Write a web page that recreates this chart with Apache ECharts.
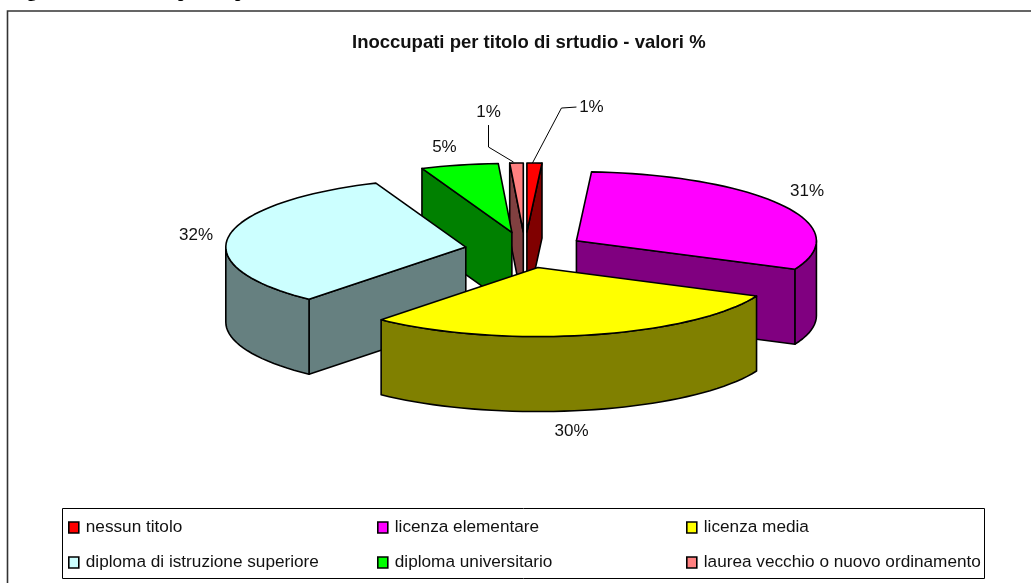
<!DOCTYPE html>
<html>
<head>
<meta charset="utf-8">
<style>
  html, body { margin: 0; padding: 0; background: #fff; }
  #chart { width: 1031px; height: 583px; }
</style>
</head>
<body>
<div id="chart"></div>
<script src="https://cdn.jsdelivr.net/npm/echarts@6/dist/echarts.min.js"></script>
<script>
// dati
var categories = ['nessun titolo', 'licenza elementare', 'licenza media', 'diploma di istruzione superiore', 'diploma universitario', 'laurea vecchio o nuovo ordinamento']
var values = [1.0, 30.7, 29.5, 32.49, 5.2, 0.9]
var topColors = ['#ff0000', '#ff00ff', '#ffff00', '#ccffff', '#00ff00', '#ff8080']
var sideColors = ['#800000', '#800080', '#808000', '#668080', '#008000', '#804040']

// geometria della torta 3D (proiezione dell'ellisse)
var cx = 525
var cy = 250
var rx = 240
var ry = 69
var depth = 75
var explode = 60
var explodeY = 18
var drawOrder = [0, 5, 4, 3, 1, 2]
var labelFont = '17px "Liberation Sans", Arial, sans-serif'

// posizione etichette e linee guida, relative al bordo della fetta
var labelOffset = [[57, -56], [25, -14], [-18, 96], [-33, 0], [-15, -18], [-28, -51]]
var leaders = {
  0: [[42, -56], [27, -55], [-2, 0]],
  5: [[-28, -38], [-28, -16], [-3, -1]]
}

var total = values.reduce(function (a, b) { return a + b }, 0)
var angles = []
values.reduce(function (acc, v, i) {
  angles[i] = [acc / total * 360, (acc + v) / total * 360]
  return acc + v
}, 0)

function rad(d) { return d * Math.PI / 180 }

function rimPoint(apex, deg, dy) {
  return [apex[0] + rx * Math.sin(rad(deg)), apex[1] - ry * Math.cos(rad(deg)) + (dy || 0)]
}

function sliceApex(i) {
  var mid = rad((angles[i][0] + angles[i][1]) / 2)
  return [cx + explode * Math.sin(mid), cy - explodeY * Math.cos(mid)]
}

function poly(points, fill) {
  return {
    type: 'polygon',
    shape: { points: points },
    style: { fill: fill, stroke: '#000', lineWidth: 1.6, lineJoin: 'round' }
  }
}

function arc(apex, from, to, dy) {
  var pts = []
  var n = Math.max(1, Math.ceil((to - from) / 2.5))
  for (var k = 0; k <= n; k++) {
    pts.push(rimPoint(apex, from + (to - from) * k / n, dy))
  }
  return pts
}

function face(apex, deg, fill) {
  return poly([
    apex,
    rimPoint(apex, deg),
    rimPoint(apex, deg, depth),
    [apex[0], apex[1] + depth]
  ], fill)
}

function renderSlice(i) {
  var apex = sliceApex(i)
  var start = angles[i][0]
  var end = angles[i][1]
  var mid = (start + end) / 2
  var children = []

  // facce laterali visibili
  if (Math.sin(rad(start)) < 0) children.push(face(apex, start, sideColors[i]))
  if (Math.sin(rad(end)) > 0) children.push(face(apex, end, sideColors[i]))
  var from = Math.max(start, 90)
  var to = Math.min(end, 270)
  if (to > from) {
    children.push(poly(arc(apex, from, to, 0).concat(arc(apex, from, to, depth).reverse()), sideColors[i]))
  }
  children.push(poly([apex].concat(arc(apex, start, end, 0)), topColors[i]))

  var rim = rimPoint(apex, mid)
  children.push({
    type: 'text',
    z2: 50,
    style: {
      x: rim[0] + labelOffset[i][0],
      y: rim[1] + labelOffset[i][1],
      text: Math.round(values[i]) + '%',
      font: labelFont,
      fill: '#111',
      align: 'center',
      verticalAlign: 'middle'
    }
  })
  if (leaders[i]) {
    children.push({
      type: 'polyline',
      z2: 40,
      shape: { points: leaders[i].map(function (p) { return [rim[0] + p[0], rim[1] + p[1]] }) },
      style: { fill: 'none', stroke: '#000', lineWidth: 1 }
    })
  }
  return { type: 'group', children: children }
}

var series = categories.map(function (name, i) {
  return {
    name: name,
    type: 'custom',
    coordinateSystem: 'none',
    z: 2 + drawOrder.indexOf(i),
    silent: true,
    itemStyle: { color: topColors[i] },
    data: [[values[i]]],
    renderItem: function () { return renderSlice(i) }
  }
})

// tre colonne di legenda, due righe ciascuna
function legendColumn(left, names) {
  return {
    orient: 'vertical',
    left: left,
    top: 514,
    itemGap: 18,
    itemWidth: 10,
    itemHeight: 11,
    icon: 'rect',
    selectedMode: false,
    data: names,
    itemStyle: { borderColor: '#000', borderWidth: 1.6 },
    textStyle: { fontFamily: '"Liberation Sans", Arial, sans-serif', fontSize: 17.2, color: '#111', padding: [0, 0, 0, 2] }
  }
}

// intestazione del documento, tagliata dal bordo superiore
function headingPiece(x, text) {
  return {
    type: 'text',
    x: x,
    y: 2,
    style: { text: text, font: 'bold 19px "Liberation Serif", serif', fill: '#000', verticalAlign: 'bottom' }
  }
}

var option = {
  animation: false,
  backgroundColor: '#fff',
  title: {
    text: 'Inoccupati per titolo di srtudio - valori %',
    left: 347,
    top: 28,
    textStyle: { fontFamily: '"Liberation Sans", Arial, sans-serif', fontSize: 18.5, fontWeight: 'bold', color: '#111' }
  },
  legend: [
    legendColumn(63, [categories[0], categories[3]]),
    legendColumn(372, [categories[1], categories[4]]),
    legendColumn(681, [categories[2], categories[5]])
  ],
  graphic: [
    headingPiece(10, 'Figura'),
    headingPiece(178, 'p'),
    headingPiece(235, 'p'),
    { type: 'polyline', shape: { points: [[7.5, 583], [7.5, 11], [1031, 11]] }, style: { fill: 'none', stroke: '#333', lineWidth: 1.6 } },
    { type: 'rect', shape: { x: 62.5, y: 508.5, width: 922, height: 70 }, style: { fill: 'none', stroke: '#000', lineWidth: 1 } }
  ],
  series: series
}

var chart = echarts.init(document.getElementById('chart'))
chart.setOption(option)
</script>
</body>
</html>
